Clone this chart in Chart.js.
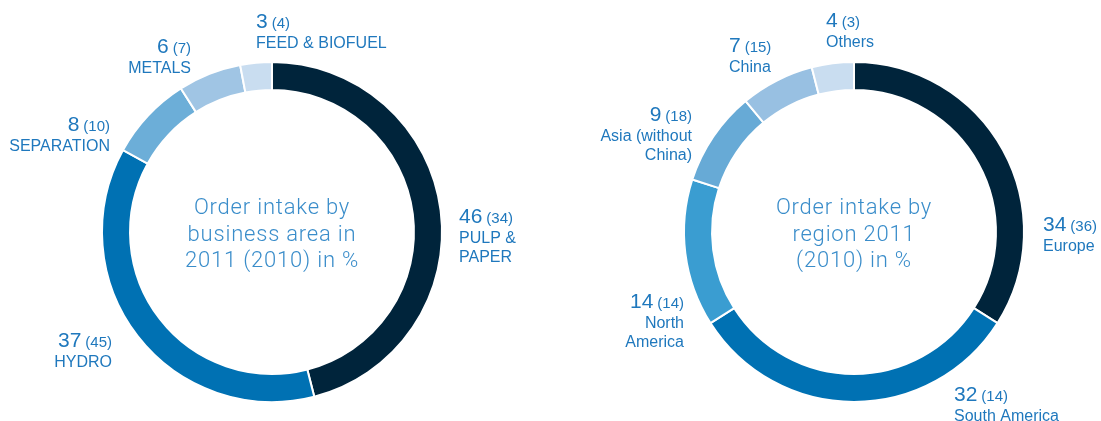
<!DOCTYPE html>
<html lang="en">
<head>
    <meta charset="UTF-8">
    <title>Order intake 2011 (2010)</title>
    <style>
        body {
            margin: 0;
            background: #ffffff;
            width: 1101px;
            height: 421px;
            overflow: hidden;
            position: relative;
        }
        canvas {
            position: absolute;
            top: 0;
        }
        #areaChart { left: 0; }
        #regionChart { left: 551px; }
    </style>
</head>
<body>
    <canvas id="areaChart" width="550" height="421"></canvas>
    <canvas id="regionChart" width="550" height="421"></canvas>
    <script src="https://cdn.jsdelivr.net/npm/chart.js"></script>
    <script>
        // data, clockwise from 12 o'clock
        const areaNames = [['PULP &', 'PAPER'], ['HYDRO'], ['SEPARATION'], ['METALS'], ['FEED & BIOFUEL']];
        const area2011 = [46, 37, 8, 6, 3];
        const area2010 = [34, 45, 10, 7, 4];
        const areaColors = ['#00243b', '#0071b3', '#6caed8', '#a0c5e4', '#c9ddf0'];

        const regionNames = [['Europe'], ['South America'], ['North', 'America'], ['Asia (without', 'China)'], ['China'], ['Others']];
        const region2011 = [34, 32, 14, 9, 7, 4];
        const region2010 = [36, 14, 14, 18, 15, 3];
        const regionColors = ['#00243b', '#0071b3', '#3a9dd1', '#67aad6', '#98c0e2', '#c9ddf0'];

        // label anchors in canvas pixels: [x, number baseline, align]
        const areaLabelPos = [[459, 223, 'left'], [112, 347, 'right'], [110, 131, 'right'], [191, 53, 'right'], [256, 28, 'left']];
        const regionLabelPos = [[492, 231, 'left'], [403, 401, 'left'], [133, 308, 'right'], [141, 121, 'right'], [178, 52, 'left'], [275, 27, 'left']];

        const labelColor = '#1f78bd';
        const centerColor = '#3a8dca';

        const ringLabels = {
            id: 'ringLabels',
            afterDraw(chart, args, opts) {
                const ctx = chart.ctx;
                const arc = chart.getDatasetMeta(0).data[0];
                const cx = arc.x, cy = arc.y;
                ctx.save();

                // center text
                ctx.fillStyle = centerColor;
                ctx.font = '300 22px Roboto, "Liberation Sans", sans-serif';
                ctx.letterSpacing = '0.8px';
                ctx.textAlign = 'center';
                ctx.textBaseline = 'alphabetic';
                const offs = [-18, 8.5, 35];
                opts.center.forEach((line, i) => ctx.fillText(line, cx, cy + offs[i]));
                ctx.letterSpacing = '0px';

                // slice labels
                ctx.fillStyle = labelColor;
                opts.names.forEach((lines, i) => {
                    const [x, y, align] = opts.pos[i];
                    const big = String(opts.now[i]);
                    const small = '(' + opts.prev[i] + ')';
                    ctx.font = '21px "Liberation Sans", Arial, sans-serif';
                    const wBig = ctx.measureText(big).width;
                    ctx.font = '15px "Liberation Sans", Arial, sans-serif';
                    const wSmall = ctx.measureText(small).width;
                    const gap = 4;
                    let xBig = align === 'left' ? x : x - wSmall - gap - wBig;
                    ctx.textAlign = 'left';
                    ctx.font = '21px "Liberation Sans", Arial, sans-serif';
                    ctx.fillText(big, xBig, y);
                    ctx.font = '15px "Liberation Sans", Arial, sans-serif';
                    ctx.fillText(small, xBig + wBig + gap, y);

                    ctx.font = '16px "Liberation Sans", Arial, sans-serif';
                    ctx.textAlign = align;
                    lines.forEach((t, j) => ctx.fillText(t, x, y + 20 + j * 19));
                });
                ctx.restore();
            }
        };

        function makeDonut(id, names, now, prev, colors, pos, center, padding) {
            new Chart(document.getElementById(id), {
                type: 'doughnut',
                data: {
                    labels: names.map(n => n.join(' ')),
                    datasets: [{
                        data: now,
                        backgroundColor: colors,
                        borderColor: '#ffffff',
                        borderWidth: 2,
                        hoverOffset: 0,
                        offset: 0
                    }]
                },
                options: {
                    responsive: false,
                    animation: false,
                    events: [],
                    cutout: '83.5%',
                    layout: { padding: padding },
                    plugins: {
                        legend: { display: false },
                        tooltip: { enabled: false },
                        ringLabels: { names: names, now: now, prev: prev, pos: pos, center: center }
                    }
                },
                plugins: [ringLabels]
            });
        }

        makeDonut('areaChart', areaNames, area2011, area2010, areaColors, areaLabelPos,
            ['Order intake by', 'business area in', '2011 (2010) in %'],
            { left: 101, right: 107, top: 61, bottom: 18 });
        makeDonut('regionChart', regionNames, region2011, region2010, regionColors, regionLabelPos,
            ['Order intake by', 'region 2011', '(2010) in %'],
            { left: 132, right: 76, top: 61, bottom: 18 });
    </script>
</body>
</html>
